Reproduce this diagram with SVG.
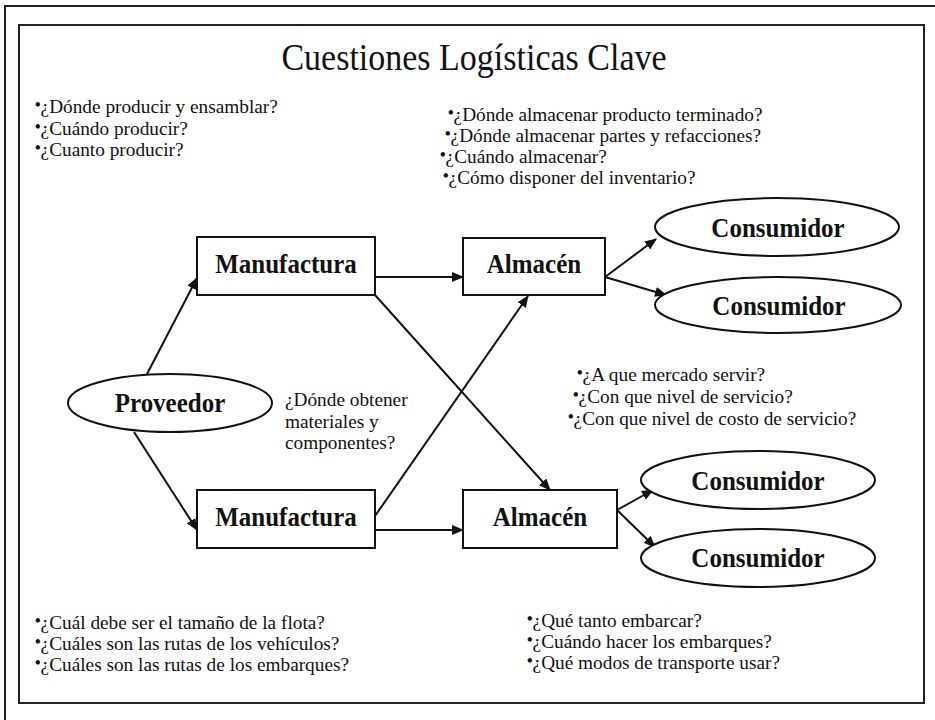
<svg xmlns="http://www.w3.org/2000/svg" width="935" height="720" viewBox="0 0 935 720">
  <style>
    .frame { fill: none; stroke: #222; stroke-width: 2; }
    .shape { fill: #fff; stroke: #111; stroke-width: 2; }
    .label { font-family: "Liberation Serif", "Times New Roman", serif; font-weight: bold; font-size: 25px; fill: #111; text-anchor: middle; }
    .note { font-family: "Liberation Serif", "Times New Roman", serif; font-size: 19.3px; fill: #111; }
    .title { font-family: "Liberation Serif", "Times New Roman", serif; font-size: 34px; fill: #111; text-anchor: middle; }
    .dot { font-size: 16px; baseline-shift: 3px; font-weight: bold; }
    .link { stroke: #111; stroke-width: 2; fill: none; marker-end: url(#arrow); }
  </style>
  <defs>
    <marker id="arrow" viewBox="0 0 12 10" refX="11" refY="5" markerWidth="12" markerHeight="10" markerUnits="userSpaceOnUse" orient="auto">
      <path d="M0,0 L12,5 L0,10 Z" fill="#111"/>
    </marker>
  </defs>

  <rect width="935" height="720" fill="#fff"/>

  <!-- page frames -->
  <rect class="frame" x="5" y="6" width="940" height="730"/>
  <rect class="frame" x="19" y="25" width="905" height="678"/>

  <text class="title" transform="translate(474 70) scale(1 1.1)">Cuestiones Logísticas Clave</text>

  <!-- question groups -->
  <g id="q-produccion" class="note">
    <text x="35" y="113"><tspan class="dot">•</tspan>¿Dónde producir y ensamblar?</text>
    <text x="35" y="134.5"><tspan class="dot">•</tspan>¿Cuándo producir?</text>
    <text x="35" y="156"><tspan class="dot">•</tspan>¿Cuanto producir?</text>
  </g>
  <g id="q-almacen" class="note">
    <text x="448" y="121"><tspan class="dot">•</tspan>¿Dónde almacenar producto terminado?</text>
    <text x="445" y="142"><tspan class="dot">•</tspan>¿Dónde almacenar partes y refacciones?</text>
    <text x="440" y="163"><tspan class="dot">•</tspan>¿Cuándo almacenar?</text>
    <text x="443" y="184"><tspan class="dot">•</tspan>¿Cómo disponer del inventario?</text>
  </g>
  <g id="q-proveedor" class="note">
    <text x="285" y="406">¿Dónde obtener</text>
    <text x="285" y="428">materiales y</text>
    <text x="285" y="449">componentes?</text>
  </g>
  <g id="q-mercado" class="note">
    <text x="577" y="381"><tspan class="dot">•</tspan>¿A que mercado servir?</text>
    <text x="573" y="403"><tspan class="dot">•</tspan>¿Con que nivel de servicio?</text>
    <text x="568" y="425"><tspan class="dot">•</tspan>¿Con que nivel de costo de servicio?</text>
  </g>
  <g id="q-flota" class="note">
    <text x="35" y="629"><tspan class="dot">•</tspan>¿Cuál debe ser el tamaño de la flota?</text>
    <text x="35" y="650"><tspan class="dot">•</tspan>¿Cuáles son las rutas de los vehículos?</text>
    <text x="35" y="671"><tspan class="dot">•</tspan>¿Cuáles son las rutas de los embarques?</text>
  </g>
  <g id="q-embarque" class="note">
    <text x="527" y="627"><tspan class="dot">•</tspan>¿Qué tanto embarcar?</text>
    <text x="527" y="648"><tspan class="dot">•</tspan>¿Cuándo hacer los embarques?</text>
    <text x="527" y="669"><tspan class="dot">•</tspan>¿Qué modos de transporte usar?</text>
  </g>

  <!-- connectors -->
  <g id="connectors">
    <line class="link" x1="147" y1="374" x2="197" y2="278"/>
    <line class="link" x1="134" y1="432" x2="197" y2="530"/>
    <line class="link" x1="375" y1="277" x2="463" y2="277"/>
    <line class="link" x1="375" y1="295" x2="550" y2="490"/>
    <line class="link" x1="375" y1="516" x2="528" y2="296"/>
    <line class="link" x1="375" y1="530" x2="463" y2="530"/>
    <line class="link" x1="605" y1="277" x2="656" y2="239"/>
    <line class="link" x1="605" y1="277" x2="666" y2="295"/>
    <line class="link" x1="617" y1="510" x2="653" y2="490"/>
    <line class="link" x1="617" y1="510" x2="655" y2="547"/>
  </g>

  <!-- nodes -->
  <g id="proveedor">
    <ellipse class="shape" cx="170" cy="403" rx="102" ry="29"/>
    <text class="label" transform="translate(170 412) scale(1 1.12)">Proveedor</text>
  </g>
  <g id="manufactura-1">
    <rect class="shape" x="197" y="237" width="178" height="58"/>
    <text class="label" transform="translate(286 273) scale(1 1.12)">Manufactura</text>
  </g>
  <g id="manufactura-2">
    <rect class="shape" x="197" y="490" width="178" height="58"/>
    <text class="label" transform="translate(286 526) scale(1 1.12)">Manufactura</text>
  </g>
  <g id="almacen-1">
    <rect class="shape" x="463" y="238" width="142" height="57"/>
    <text class="label" transform="translate(534 273) scale(1 1.12)">Almacén</text>
  </g>
  <g id="almacen-2">
    <rect class="shape" x="463" y="490" width="154" height="58"/>
    <text class="label" transform="translate(540 526) scale(1 1.12)">Almacén</text>
  </g>
  <g id="consumidor-1">
    <ellipse class="shape" cx="777" cy="227" rx="122" ry="29"/>
    <text class="label" transform="translate(778 237) scale(1 1.12)">Consumidor</text>
  </g>
  <g id="consumidor-2">
    <ellipse class="shape" cx="778" cy="305" rx="123" ry="28"/>
    <text class="label" transform="translate(779 315) scale(1 1.12)">Consumidor</text>
  </g>
  <g id="consumidor-3">
    <ellipse class="shape" cx="758" cy="480" rx="117" ry="29"/>
    <text class="label" transform="translate(758 490) scale(1 1.12)">Consumidor</text>
  </g>
  <g id="consumidor-4">
    <ellipse class="shape" cx="758" cy="558" rx="117" ry="29"/>
    <text class="label" transform="translate(758 567) scale(1 1.12)">Consumidor</text>
  </g>
</svg>
